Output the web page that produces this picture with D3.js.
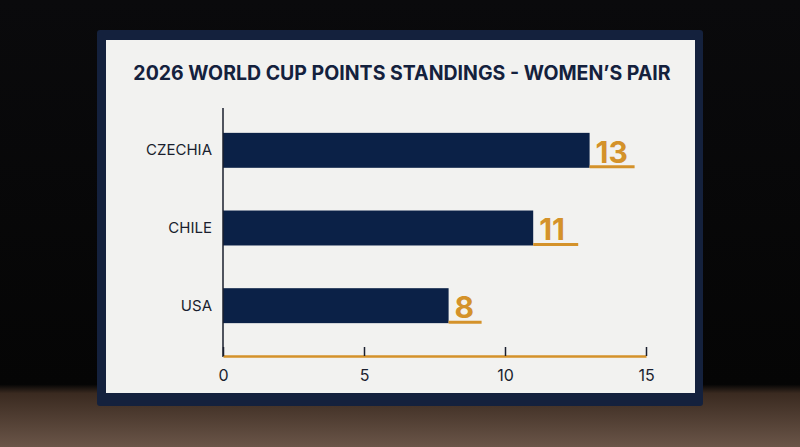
<!DOCTYPE html>
<html>
<head>
<meta charset="utf-8">
<script src="https://cdn.jsdelivr.net/npm/d3@7"></script>
<style>body{margin:0;background:#000}</style>
</head>
<body>
<div id="chart"></div>
<script>
var countries = ["CZECHIA", "CHILE", "USA"];
var points = [13, 11, 8];
var ticks = [0, 5, 10, 15];

var width = 800, height = 447;
var svg = d3.select("#chart").append("svg")
	.attr("width", width).attr("height", height);

var defs = svg.append("defs");
var bg = defs.append("linearGradient").attr("id", "bg").attr("x1", 0).attr("y1", 0).attr("x2", 0).attr("y2", 1);
bg.append("stop").attr("offset", "0%").attr("stop-color", "#0a0a0c");
bg.append("stop").attr("offset", "86%").attr("stop-color", "#050505");
bg.append("stop").attr("offset", "88%").attr("stop-color", "#3a2a20");
bg.append("stop").attr("offset", "100%").attr("stop-color", "#6a5548");
svg.append("rect").attr("width", width).attr("height", height).attr("fill", "url(#bg)");

// monitor frame and screen
svg.append("rect").attr("x", 97).attr("y", 30).attr("width", 606).attr("height", 376).attr("rx", 3).attr("fill", "#14213d");
svg.append("rect").attr("x", 106).attr("y", 40).attr("width", 589).attr("height", 353).attr("fill", "#f2f2f0");

svg.append("text").attr("x", 402).attr("y", 80).attr("text-anchor", "middle")
	.attr("font-family", "Inter, 'Noto Sans', sans-serif").attr("font-weight", 700).attr("font-size", 19.5)
	.attr("fill", "#14213d").text("2026 WORLD CUP POINTS STANDINGS - WOMEN\u2019S PAIR");

var x = d3.scaleLinear().domain([0, 15]).range([223, 646]);
var y = d3.scaleBand().domain(countries).range([108, 348]).paddingInner(0.55).paddingOuter(0.32);

var g = svg.append("g");
var data = countries.map(function(c, i) { return {c: c, v: points[i]}; });

g.selectAll("rect.bar").data(data).enter().append("rect").attr("class", "bar")
	.attr("x", x(0)).attr("y", function(d) { return y(d.c); })
	.attr("width", function(d) { return x(d.v) - x(0); })
	.attr("height", y.bandwidth()).attr("fill", "#0b2147");

g.selectAll("line.ul").data(data).enter().append("line").attr("class", "ul")
	.attr("x1", function(d) { return x(d.v); })
	.attr("x2", function(d) { return x(d.v) + (d.v >= 10 ? 45 : 33); })
	.attr("y1", function(d) { return y(d.c) + y.bandwidth() - 1; })
	.attr("y2", function(d) { return y(d.c) + y.bandwidth() - 1; })
	.attr("stroke", "#d4922a").attr("stroke-width", 3);

g.selectAll("text.val").data(data).enter().append("text").attr("class", "val")
	.attr("x", function(d) { return x(d.v) + 6; })
	.attr("y", function(d) { return y(d.c) + y.bandwidth() - 5; })
	.attr("font-family", "Inter, sans-serif").attr("font-weight", 700).attr("font-size", 30)
	.attr("fill", "#d4922a").text(function(d) { return d.v; });

g.selectAll("text.cat").data(data).enter().append("text").attr("class", "cat")
	.attr("x", 212).attr("y", function(d) { return y(d.c) + y.bandwidth() / 2 + 5; })
	.attr("text-anchor", "end").attr("font-family", "Inter, sans-serif").attr("font-size", 15)
	.attr("fill", "#1a1f2e").text(function(d) { return d.c; });

// y axis line
svg.append("line").attr("x1", 223).attr("x2", 223).attr("y1", 108).attr("y2", 357)
	.attr("stroke", "#1a1f2e").attr("stroke-width", 1.5);

// x axis
var xa = svg.append("g").attr("transform", "translate(0,356)")
	.call(d3.axisBottom(x).tickValues(ticks).tickSize(0).tickPadding(14));
xa.select(".domain").attr("stroke", "#d4922a").attr("stroke-width", 2.5);
xa.selectAll(".tick line").attr("y1", -9).attr("y2", 0).attr("stroke", "#1a1f2e").attr("stroke-width", 1.5);
xa.selectAll(".tick text").attr("font-family", "Inter, sans-serif").attr("font-size", 16).attr("fill", "#1a1f2e");
</script>
</body>
</html>
